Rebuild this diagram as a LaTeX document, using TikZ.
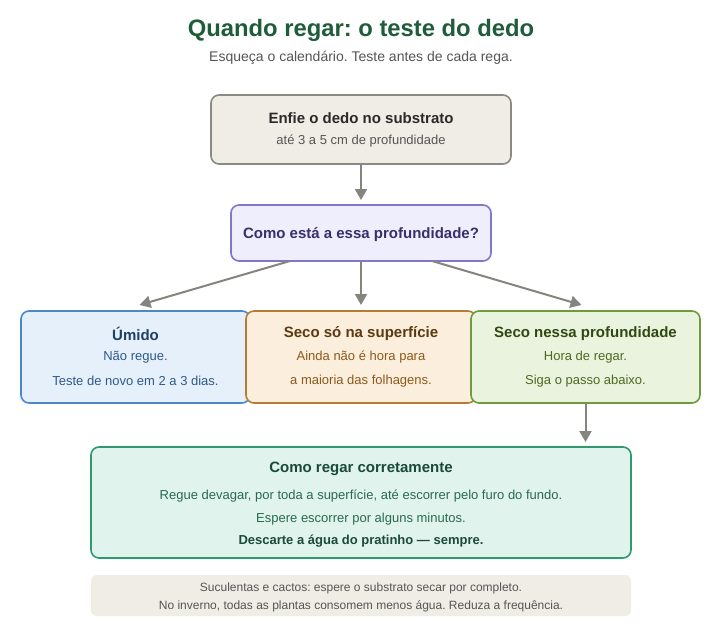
\documentclass[tikz,border=0pt]{standalone}
\usepackage{fontspec}
\setmainfont{Liberation Sans}
\frenchspacing
\usetikzlibrary{arrows.meta,calc}
\definecolor{titlegreen}{HTML}{1F5C3A}
\definecolor{subgray}{HTML}{555555}
\definecolor{arrowgray}{HTML}{85857D}
\definecolor{b1fill}{HTML}{F0EDE6}
\definecolor{b1draw}{HTML}{8A8A82}
\definecolor{b1text}{HTML}{2A2A2A}
\definecolor{b2fill}{HTML}{EFEEFC}
\definecolor{b2draw}{HTML}{8276C8}
\definecolor{b2text}{HTML}{3A2E6C}
\definecolor{b3fill}{HTML}{E6F0FA}
\definecolor{b3draw}{HTML}{4A89C8}
\definecolor{b3title}{HTML}{1E3F66}
\definecolor{b3text}{HTML}{2D5A8A}
\definecolor{b4fill}{HTML}{FBEEDC}
\definecolor{b4draw}{HTML}{B57D34}
\definecolor{b4title}{HTML}{5A3A10}
\definecolor{b4text}{HTML}{8A5A1C}
\definecolor{b5fill}{HTML}{EAF3DE}
\definecolor{b5draw}{HTML}{6E9C3C}
\definecolor{b5title}{HTML}{2F4A10}
\definecolor{b5text}{HTML}{4C6A22}
\definecolor{b6fill}{HTML}{E0F3EC}
\definecolor{b6draw}{HTML}{2E9A70}
\definecolor{b6title}{HTML}{1A4A3A}
\definecolor{b6text}{HTML}{2A6A50}
\tikzset{
  box/.style={rounded corners=8pt, line width=1.6pt, inner sep=0pt, outer sep=0pt},
  arr/.style={draw=arrowgray, line width=2pt, -{Triangle[length=11pt,width=12pt]}},
  ttl/.style={font=\bfseries\fontsize{15}{17}\selectfont, inner sep=0pt},
  txt/.style={font=\fontsize{13}{15}\selectfont, inner sep=0pt},
  notetxt/.style={font=\fontsize{12}{14}\selectfont, text=subgray, inner sep=0pt},
}
\begin{document}
\begin{tikzpicture}[x=1pt,y=-1pt]
\useasboundingbox (0,0) rectangle (722,637);
\fill[white] (0,0) rectangle (722,637);

\node[font=\bfseries\fontsize{23.8}{28}\selectfont, text=titlegreen, inner sep=0pt] (title) at (361,30) {Quando regar: o teste do dedo};
\node[font=\fontsize{14}{16}\selectfont, text=subgray, inner sep=0pt] (sub) at (361,58) {Esqueça o calendário. Teste antes de cada rega.};

% box 1
\node[box, fill=b1fill, draw=b1draw, minimum width=300pt, minimum height=69pt] (b1) at (361,129.5) {};
\node[ttl, text=b1text] (b1t) at (361,118) {Enfie o dedo no substrato};
\node[txt, text=subgray] (b1s) at (361,141) {até 3 a 5 cm de profundidade};

% box 2
\node[box, fill=b2fill, draw=b2draw, minimum width=260pt, minimum height=56pt] (b2) at (361,233) {};
\node[ttl, text=b2text] (b2t) at (361,235) {Como está a essa profundidade?};

% box 3
\node[box, fill=b3fill, draw=b3draw, minimum width=229pt, minimum height=92pt] (b3) at (135.5,357) {};
\node[ttl, text=b3title] (b3t) at (135.5,334) {Úmido};
\node[txt, text=b3text] (b3a) at (135.5,357) {Não regue.};
\node[txt, text=b3text] (b3b) at (135.5,381) {Teste de novo em 2 a 3 dias.};

% box 4
\node[box, fill=b4fill, draw=b4draw, minimum width=230pt, minimum height=92pt] (b4) at (361,357) {};
\node[ttl, text=b4title] (b4t) at (361,334) {Seco só na superfície};
\node[txt, text=b4text] (b4a) at (361,357) {Ainda não é hora para};
\node[txt, text=b4text] (b4b) at (361,381) {a maioria das folhagens.};

% box 5
\node[box, fill=b5fill, draw=b5draw, minimum width=229pt, minimum height=92pt] (b5) at (585.5,357) {};
\node[ttl, text=b5title] (b5t) at (585.5,334) {Seco nessa profundidade};
\node[txt, text=b5text] (b5a) at (585.5,357) {Hora de regar.};
\node[txt, text=b5text] (b5b) at (585.5,381) {Siga o passo abaixo.};

% box 6
\node[box, fill=b6fill, draw=b6draw, minimum width=540pt, minimum height=111pt] (b6) at (361,502.5) {};
\node[ttl, text=b6title] (b6t) at (361,469) {Como regar corretamente};
\node[txt, text=b6text] (b6a) at (361,496) {Regue devagar, por toda a superfície, até escorrer pelo furo do fundo.};
\node[txt, text=b6text] (b6b) at (361,519) {Espere escorrer por alguns minutos.};
\node[txt, font=\bfseries\fontsize{13}{15}\selectfont, text=b6title] (b6c) at (361,541) {Descarte a água do pratinho — sempre.};

% note
\node[rounded corners=6pt, fill=b1fill, minimum width=540pt, minimum height=41pt, inner sep=0pt] (note) at (361,595.5) {};
\node[notetxt] (n1) at (361,588) {Suculentas e cactos: espere o substrato secar por completo.};
\node[notetxt] (n2) at (361,606) {No inverno, todas as plantas consomem menos água. Reduza a frequência.};

% arrows
\draw[arr] (b1.south) -- ([yshift=5pt]b2.north);
\draw[arr] ([xshift=-71pt]b2.south) -- ([xshift=4pt,yshift=6pt]b3.north);
\draw[arr] (b2.south) -- ([yshift=6pt]b4.north);
\draw[arr] ([xshift=71pt]b2.south) -- ([xshift=-4pt,yshift=6pt]b5.north);
\draw[arr] (b5.south) -- ([yshift=5pt]b6.north -| b5.south);
\end{tikzpicture}
\end{document}
